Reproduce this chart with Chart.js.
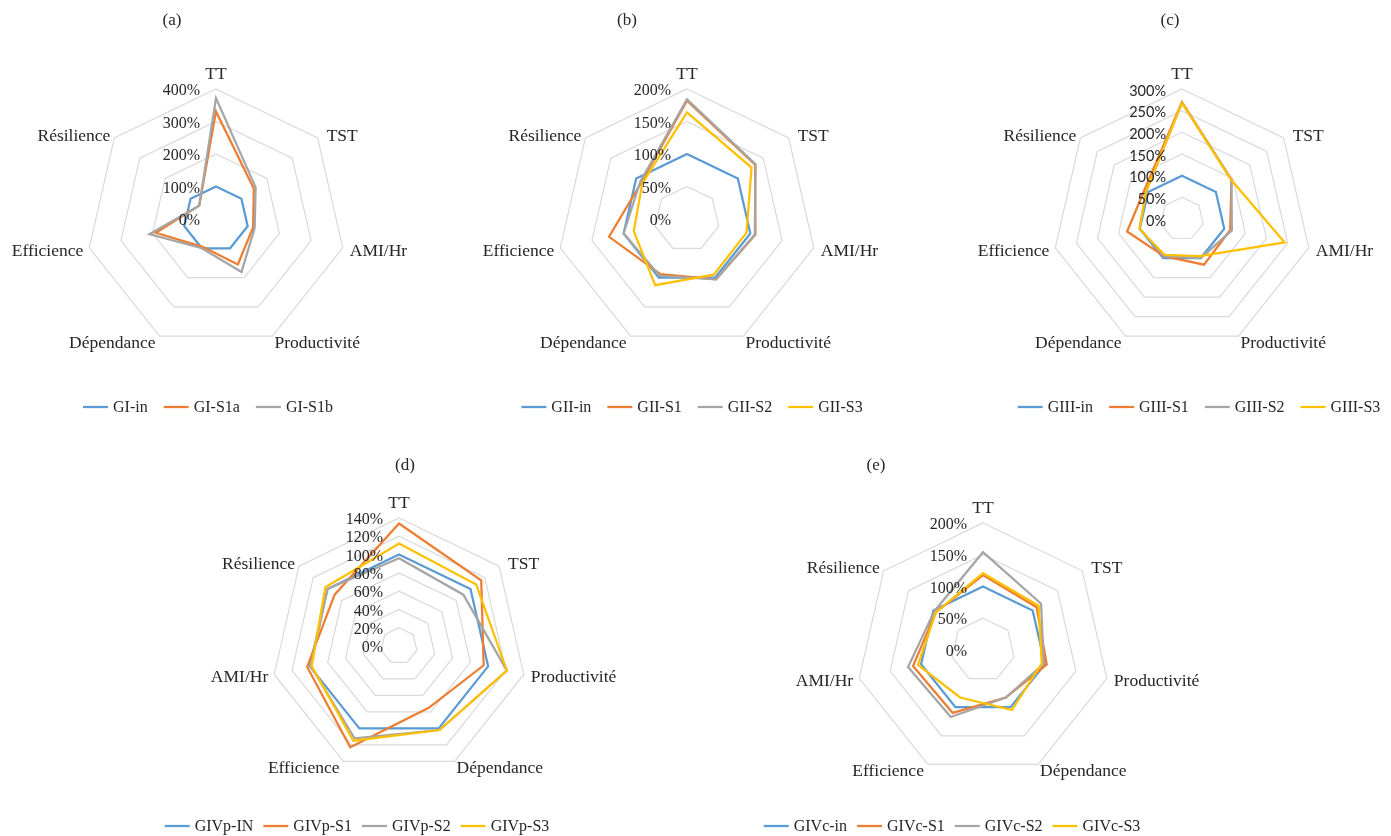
<!DOCTYPE html>
<html>
<head>
<meta charset="utf-8">
<script src="https://cdn.jsdelivr.net/npm/chart.js@4.4.1/dist/chart.umd.min.js"></script>
<style>
  html, body { margin: 0; padding: 0; background: #ffffff; }
  #wrap { position: relative; width: 1391px; height: 836px; overflow: hidden; background: #ffffff; }
  #wrap canvas { position: absolute; left: 0; top: 0; }
</style>
</head>
<body>
<div id="wrap">
  <canvas id="radarA" width="1391" height="836"></canvas>
  <canvas id="radarB" width="1391" height="836"></canvas>
  <canvas id="radarC" width="1391" height="836"></canvas>
  <canvas id="radarD" width="1391" height="836"></canvas>
  <canvas id="radarE" width="1391" height="836"></canvas>
</div>
<script>
// Axis categories
const axesABC = ['TT', 'TST', 'AMI/Hr', 'Productivité', 'Dépendance', 'Efficience', 'Résilience'];
const axesDE  = ['TT', 'TST', 'Productivité', 'Dépendance', 'Efficience', 'AMI/Hr', 'Résilience'];

// (a) group I, values in %
const GI_in  = [100, 100, 100, 100, 100, 100, 100];
const GI_S1a = [331, 149, 117, 155, 95, 190, 66];
const GI_S1b = [372, 156, 122, 181, 100, 210, 66];
const ticksA = [0, 100, 200, 300, 400];

// (b) group II
const GII_in = [100, 100, 100, 100, 100, 100, 100];
const GII_S1 = [182, 134, 108, 103, 94, 123, 90];
const GII_S2 = [184, 135, 107, 103, 97, 100, 92];
const GII_S3 = [164, 127, 94, 95, 113, 84, 88];
const ticksB = [0, 50, 100, 150, 200];

// (c) group III
const GIII_in = [100, 100, 100, 100, 100, 100, 100];
const GIII_S1 = [270, 146, 114, 117, 95, 130, 110];
const GIII_S2 = [268, 146, 118, 100, 95, 100, 105];
const GIII_S3 = [268, 145, 243, 95, 92, 101, 105];
const ticksC = [0, 50, 100, 150, 200, 250, 300];

// (d) group IVp
const GIVp_IN = [100, 100, 100, 100, 100, 100, 100];
const GIVp_S1 = [134, 115, 95, 75, 123, 103, 90];
const GIVp_S2 = [96, 90, 121, 102, 112, 99, 100];
const GIVp_S3 = [112, 108, 121, 102, 115, 98, 103];
const ticksD = [0, 20, 40, 60, 80, 100, 120, 140];

// (e) group IVc
const GIVc_in = [100, 100, 100, 100, 100, 100, 100];
const GIVc_S1 = [118, 108, 103, 83, 110, 113, 95];
const GIVc_S2 = [154, 117, 98, 83, 117, 121, 98];
const GIVc_S3 = [121, 112, 95, 105, 83, 105, 95];
const ticksE = [0, 50, 100, 150, 200];

const COLORS = ['#5B9BD5', '#ED7D31', '#A5A5A5', '#FFC000'];
const SERIF = "'Liberation Serif', 'Times New Roman', serif";
const TEXT = '#262626';
const W = 1391, H = 836;

// text placement around each spoke end: [align, dx, dy]
const LABEL_OFFSETS = [
  ['center', 0, -15],
  ['left', 9, -2],
  ['left', 7, 3],
  ['left', 2, 7],
  ['right', -4, 7],
  ['right', -6, 3],
  ['right', -4, -2]
];

const panelText = {
  id: 'panelText',
  afterDatasetsDraw(chart, args, opts) {
    const ctx = chart.ctx;
    const s = chart.scales.r;
    const cx = s.xCenter, cy = s.yCenter, R = s.drawingArea;
    ctx.save();
    ctx.fillStyle = TEXT;
    ctx.textBaseline = 'middle';

    // radial tick labels, left of the vertical spoke
    ctx.font = opts.tickFont;
    ctx.textAlign = 'right';
    opts.ticks.forEach(v => {
      const y = cy - s.getDistanceFromCenterForValue(v) + 2;
      ctx.fillText(v + '%', cx - 16, y);
    });

    // category labels
    ctx.font = '17.5px ' + SERIF;
    chart.data.labels.forEach((lab, k) => {
      const p = s.getPointPosition(k, R);
      const o = LABEL_OFFSETS[k];
      ctx.textAlign = o[0];
      ctx.fillText(lab, p.x + o[1], p.y + o[2]);
    });

    // panel letter
    ctx.font = '17px ' + SERIF;
    ctx.textAlign = 'center';
    ctx.fillText(opts.title, opts.titleX, opts.titleY);

    // legend row
    ctx.font = '16px ' + SERIF;
    const lineLen = 25, gapText = 5, gapItem = opts.legendGap;
    const ds = chart.data.datasets;
    const widths = ds.map(d => ctx.measureText(d.label).width);
    let total = 0;
    widths.forEach((w, i) => { total += lineLen + gapText + w + (i < ds.length - 1 ? gapItem : 0); });
    let x = opts.legendX - total / 2;
    const y = opts.legendY;
    ctx.textAlign = 'left';
    ds.forEach((d, i) => {
      ctx.strokeStyle = d.borderColor;
      ctx.lineWidth = 2.25;
      ctx.beginPath();
      ctx.moveTo(x, y);
      ctx.lineTo(x + lineLen, y);
      ctx.stroke();
      ctx.fillText(d.label, x + lineLen + gapText, y + 1);
      x += lineLen + gapText + widths[i] + gapItem;
    });
    ctx.restore();
  }
};

function makeRadar(id, p) {
  const n = p.series.length;
  new Chart(document.getElementById(id), {
    type: 'radar',
    data: {
      labels: p.labels,
      datasets: p.series.map((s, i) => ({
        label: s[0],
        data: s[1],
        borderColor: COLORS[i],
        backgroundColor: 'rgba(0,0,0,0)',
        borderWidth: 2.25,
        pointRadius: 0,
        pointHoverRadius: 0,
        fill: false,
        tension: 0,
        order: n - i
      }))
    },
    options: {
      responsive: false,
      animation: false,
      devicePixelRatio: 1,
      layout: {
        padding: { left: p.cx - p.R, top: p.cy - p.R, right: W - p.cx - p.R, bottom: H - p.cy - p.R }
      },
      plugins: {
        legend: { display: false },
        tooltip: { enabled: false },
        title: { display: false },
        panelText: {
          ticks: p.ticks, tickFont: p.tickFont,
          title: p.title, titleX: p.titleX, titleY: p.titleY,
          legendX: p.legendX, legendY: p.legendY, legendGap: p.legendGap
        }
      },
      scales: {
        r: {
          min: p.ticks[0],
          max: p.ticks[p.ticks.length - 1],
          ticks: { display: false, stepSize: p.ticks[1] - p.ticks[0] },
          grid: { color: '#D9D9D9', lineWidth: 1.2 },
          angleLines: { display: false },
          pointLabels: { display: false }
        }
      }
    },
    plugins: [panelText]
  });
}

const serifTicks = '16px ' + SERIF;

makeRadar('radarA', {
  labels: axesABC, cx: 216, cy: 219, R: 130, ticks: ticksA, tickFont: serifTicks,
  title: '(a)', titleX: 172, titleY: 21, legendX: 208, legendY: 407, legendGap: 16,
  series: [['GI-in', GI_in], ['GI-S1a', GI_S1a], ['GI-S1b', GI_S1b]]
});
makeRadar('radarB', {
  labels: axesABC, cx: 687, cy: 219, R: 130, ticks: ticksB, tickFont: serifTicks,
  title: '(b)', titleX: 627, titleY: 21, legendX: 692, legendY: 407, legendGap: 16,
  series: [['GII-in', GII_in], ['GII-S1', GII_S1], ['GII-S2', GII_S2], ['GII-S3', GII_S3]]
});
makeRadar('radarC', {
  labels: axesABC, cx: 1182, cy: 219, R: 130, ticks: ticksC, tickFont: "14.5px Lato, 'Open Sans', sans-serif",
  title: '(c)', titleX: 1170, titleY: 21, legendX: 1199, legendY: 407, legendGap: 16,
  series: [['GIII-in', GIII_in], ['GIII-S1', GIII_S1], ['GIII-S2', GIII_S2], ['GIII-S3', GIII_S3]]
});
makeRadar('radarD', {
  labels: axesDE, cx: 399, cy: 646, R: 128, ticks: ticksD, tickFont: serifTicks,
  title: '(d)', titleX: 405, titleY: 466, legendX: 357, legendY: 826, legendGap: 10,
  series: [['GIVp-IN', GIVp_IN], ['GIVp-S1', GIVp_S1], ['GIVp-S2', GIVp_S2], ['GIVp-S3', GIVp_S3]]
});
makeRadar('radarE', {
  labels: axesDE, cx: 983, cy: 650, R: 127, ticks: ticksE, tickFont: serifTicks,
  title: '(e)', titleX: 876, titleY: 466, legendX: 952, legendY: 826, legendGap: 10,
  series: [['GIVc-in', GIVc_in], ['GIVc-S1', GIVc_S1], ['GIVc-S2', GIVc_S2], ['GIVc-S3', GIVc_S3]]
});
</script>
</body>
</html>
